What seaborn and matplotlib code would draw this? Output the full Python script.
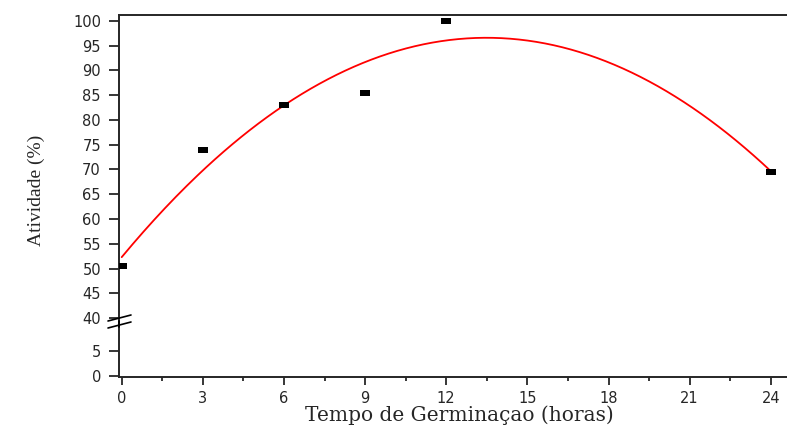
import numpy as np
import pandas as pd
import matplotlib
matplotlib.use('Agg')
import matplotlib.pyplot as plt
from matplotlib.lines import Line2D
from matplotlib.markers import MarkerStyle
from matplotlib.ticker import MultipleLocator
import seaborn as sns

# data
tempo = [0, 3, 6, 9, 12, 24]
atividade = [50.5, 74.0, 83.0, 85.5, 100.0, 69.5]
xticks = [0, 3, 6, 9, 12, 15, 18, 21, 24]
yticks_top = [40, 45, 50, 55, 60, 65, 70, 75, 80, 85, 90, 95, 100]
yticks_low = [0, 5]

df = pd.DataFrame({'tempo': tempo, 'atividade': atividade})

# quadratic fit (red curve)
coef = np.polyfit(df['tempo'], df['atividade'], 2)
xfit = np.linspace(min(tempo), max(tempo), 300)
fit = pd.DataFrame({'tempo': xfit, 'atividade': np.polyval(coef, xfit)})

sns.set_style('ticks')
plt.rcParams['font.family'] = ['DejaVu Sans']

W, H = 787, 430
fig = plt.figure(figsize=(W / 100, H / 100), dpi=100)
left = 119 / W
ax_top = fig.add_axes([left, 1 - 322 / H, 1 - left, (322 - 15) / H])
ax_low = fig.add_axes([left, 1 - 377 / H, 1 - left, (377 - 326) / H])

rect = MarkerStyle([(-1, -0.65), (1, -0.65), (1, 0.65), (-1, 0.65), (-1, -0.65)])

for ax in (ax_top, ax_low):
    sns.lineplot(data=fit, x='tempo', y='atividade', color='#ff0000', lw=1.3, ax=ax)
    sns.scatterplot(data=df, x='tempo', y='atividade', marker=rect, s=60,
                    color='black', edgecolor='black', linewidth=0, zorder=5, ax=ax)
    ax.set_xlim(-0.1, 24.6)
    ax.set_xlabel('')
    ax.set_ylabel('')
    ax.spines['right'].set_visible(False)
    for s in ax.spines.values():
        s.set_linewidth(1.4)
    ax.tick_params(axis='y', length=7, width=1.3, pad=6, labelsize=10.5)

ax_top.set_ylim(39.2, 101.2)
ax_top.set_yticks(yticks_top)
ax_top.spines['bottom'].set_visible(False)
ax_top.tick_params(axis='x', which='both', bottom=False, labelbottom=False)

ax_low.set_ylim(-0.2, 10.1)
ax_low.set_yticks(yticks_low)
ax_low.spines['top'].set_visible(False)
ax_low.set_xticks(xticks)
ax_low.xaxis.set_minor_locator(MultipleLocator(1.5))
ax_low.tick_params(axis='x', which='major', length=6, width=1.3, pad=4, labelsize=10.5)
ax_low.tick_params(axis='x', which='minor', length=3, width=1.3)

# axis break marks and spine joint
fx = lambda px: px / W
fy = lambda py: 1 - py / H
fig.add_artist(Line2D([fx(119), fx(119)], [fy(321), fy(327)], color='black', lw=1.4))
for y0 in (321, 328):
    fig.add_artist(Line2D([fx(108), fx(131)], [fy(y0), fy(y0 - 6)], color='black', lw=1.2))

fig.text(fx(459), fy(415), 'Tempo de Germinaçao (horas)', ha='center', va='center',
         fontsize=14.5, family=['DejaVu Serif'])
fig.text(fx(36), fy(190), 'Atividade (%)', ha='center', va='center', rotation=90,
         fontsize=14, family=['Liberation Serif', 'DejaVu Serif'])

fig.savefig('out.png', dpi=100)
